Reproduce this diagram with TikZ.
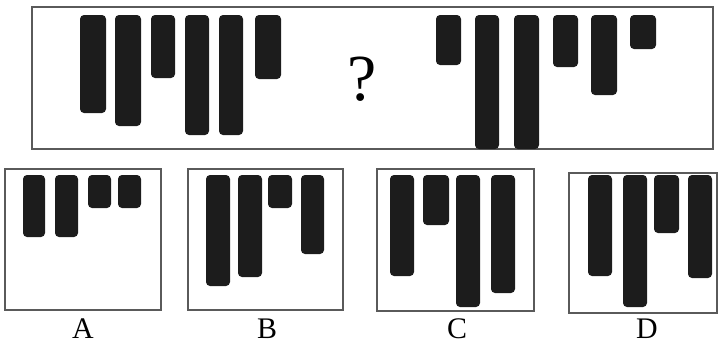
\documentclass[tikz,border=0pt]{standalone}
\usepackage{fontspec}
\setmainfont{Liberation Serif}
\definecolor{barcol}{HTML}{1C1C1C}
\definecolor{framecol}{HTML}{5A5A5A}
\tikzset{
  bar/.style={fill=barcol, rounded corners=4bp},
  frame/.style={draw=framecol, line width=1.3bp},
  letter/.style={anchor=base, inner sep=0pt, font=\fontsize{30}{32}\selectfont}
}
\begin{document}
\begin{tikzpicture}[x=1bp,y=-1bp]
  \useasboundingbox (0,0) rectangle (718,343);

  % Frames
  \draw[frame] (32,7) rectangle (713,149);
  \draw[frame] (5,169) rectangle (161,310);
  \draw[frame] (188,169) rectangle (343,310);
  \draw[frame] (377,169) rectangle (534,311);
  \draw[frame] (569,173) rectangle (717,313);

  % Top row, left group
  \foreach \l/\r/\b in {80/106/113, 115/141/126, 151/175/78, 185/209/135, 219/243/135, 255/281/79}
    \fill[bar] (\l,15) rectangle (\r,\b);
  % Top row, right group
  \foreach \l/\r/\b in {436/461/65, 475/499/149, 514/539/149, 553/578/67, 591/617/95, 630/656/49}
    \fill[bar] (\l,15) rectangle (\r,\b);
  \node[anchor=base, inner sep=0pt, font=\fontsize{66}{70}\selectfont] (qmark) at (362,100) {?};

  % Options
  \foreach \l/\r/\b in {23/45/237, 55/78/237, 88/111/208, 118/141/208}
    \fill[bar] (\l,175) rectangle (\r,\b);
  \foreach \l/\r/\b in {206/230/286, 238/262/277, 268/292/208, 301/324/254}
    \fill[bar] (\l,175) rectangle (\r,\b);
  \foreach \l/\r/\b in {390/414/276, 423/449/225, 456/480/307, 491/515/293}
    \fill[bar] (\l,175) rectangle (\r,\b);
  \foreach \l/\r/\b in {588/612/276, 623/647/307, 654/679/233, 688/712/278}
    \fill[bar] (\l,175) rectangle (\r,\b);

  % Labels
  \node[letter] (optA) at (83,338) {A};
  \node[letter] (optB) at (267,338) {B};
  \node[letter] (optC) at (457,338) {C};
  \node[letter] (optD) at (647,338) {D};
\end{tikzpicture}
\end{document}
